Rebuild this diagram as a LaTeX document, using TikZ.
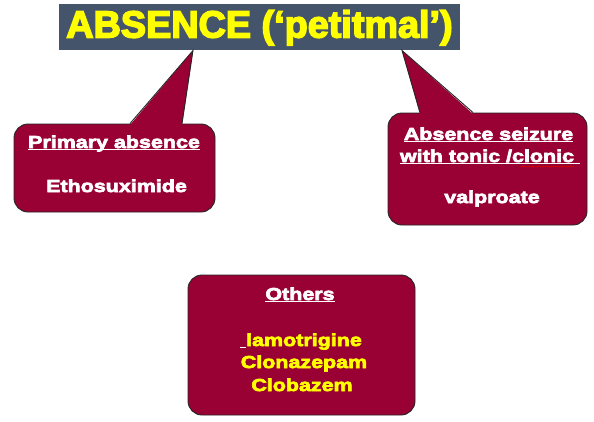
\documentclass[tikz,border=0pt]{standalone}
\usepackage{fontspec}
\setmainfont{Liberation Sans}
\newfontfamily\titlefont[FakeBold=4]{Liberation Sans Bold}
\newfontfamily\boxfont[FakeStretch=1.24,FakeBold=4]{Liberation Sans Bold}
\usetikzlibrary{decorations.pathmorphing}

\definecolor{slate}{RGB}{68,84,106}
\definecolor{crimson}{RGB}{153,0,51}
\definecolor{hiyellow}{RGB}{255,255,0}

% underline drawn as a rule below the baseline
\newcommand\ulin[1]{\setbox0\hbox{#1}\rlap{\rule[-2.4pt]{\wd0}{1.3pt}}\box0}

\tikzset{
  panel/.style={draw=black!85, line width=0.9pt, fill=crimson, rounded corners=14pt, inner sep=0pt},
  head/.style={anchor=base, inner sep=0pt, text=white, font=\boxfont\fontsize{17.3}{20}\selectfont},
  drug/.style={head, text=hiyellow},
  pointer/.style={draw=black!85, line width=0.9pt, line join=miter}
}

\begin{document}
\begin{tikzpicture}[x=1pt,y=-1pt]
\useasboundingbox (0,0) rectangle (594,421);
\fill[white] (0,0) rectangle (594,421);

% title banner
\node[fill=slate, minimum width=401pt, minimum height=46pt, inner sep=0pt] (title) at (259.5,27.3) {};
\node[anchor=base, inner sep=0pt, text=hiyellow, font=\titlefont\fontsize{37.8}{40}\selectfont] (titletext) at (259.5,37.5) {ABSENCE (‘petitmal’)};

% panels
\node[panel, minimum width=201pt, minimum height=88pt] (left) at (114.5,168) {};
\node[panel, minimum width=199pt, minimum height=112pt] (right) at (487.5,169) {};
\node[panel, minimum width=227pt, minimum height=140pt] (others) at (301.5,345) {};

% pointers from panels up to the banner
\coordinate (ltip) at (title.south -| 193,0);
\coordinate (la) at (left.north -| 130,0);
\coordinate (lb) at (left.north -| 182,0);
\coordinate (rtip) at (title.south -| 402,0);
\coordinate (ra) at (right.north -| 420,0);
\coordinate (rb) at (right.north -| 473,0);
\fill[crimson] ([yshift=-1.5pt]la) -- (ltip) -- ([yshift=-1.5pt]lb) -- cycle;
\draw[pointer] (la) -- (ltip) -- (lb);
\fill[crimson] ([yshift=-1.5pt]ra) -- (rtip) -- ([yshift=-1.5pt]rb) -- cycle;
\draw[pointer] (ra) -- (rtip) -- (rb);

% left panel text
\node[head] (lhead) at (114,148) {\ulin{Primary absence}};
\node[head] (ldrug) at (116.5,192) {Ethosuximide};

% right panel text
\node[head] (rhead1) at (488.5,140) {\ulin{Absence seizure}};
\node[head] (rhead2) at (490,162) {\ulin{with tonic /clonic\ }};
\node[head] (rdrug) at (492,203) {valproate};
\draw[red!85!black, line width=0.45pt, decorate, decoration={zigzag, segment length=2pt, amplitude=0.5pt}]
  ([xshift=-60pt,yshift=-4.7pt]rhead2.base east) -- ([xshift=-6pt,yshift=-4.7pt]rhead2.base east);

% bottom panel text
\node[head] (ohead) at (300,300) {\ulin{Others}};
\node[drug] (odrug1) at (301,346) {\textcolor{white}{\ulin{\ }}lamotrigine};
\node[drug] (odrug2) at (304,368) {Clonazepam};
\node[drug] (odrug3) at (302,391) {Clobazem};
\end{tikzpicture}
\end{document}
